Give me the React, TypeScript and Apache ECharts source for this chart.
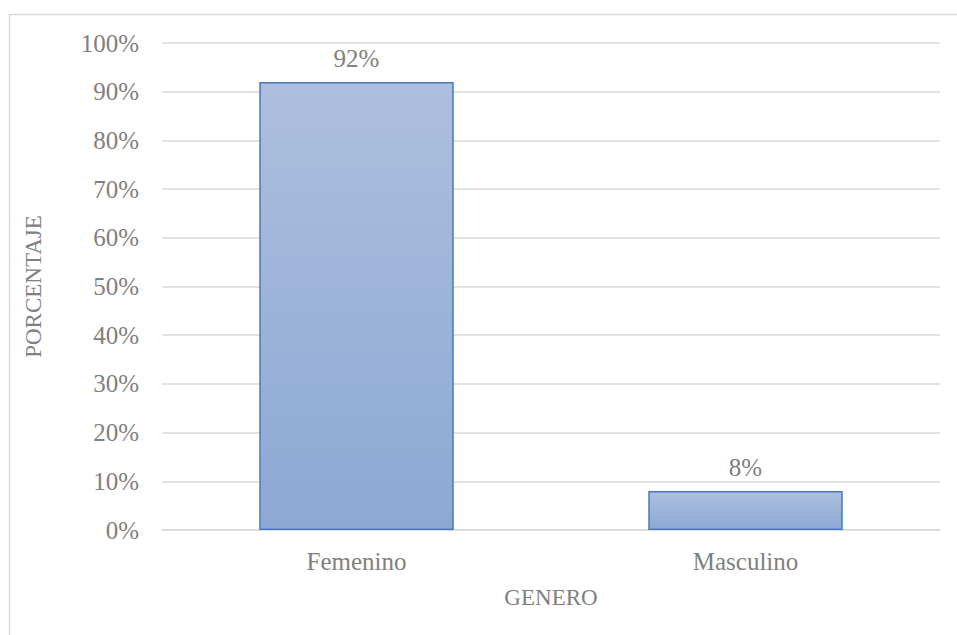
import React, { useEffect, useRef } from "react";
import * as echarts from "echarts";

const categories = ["Femenino", "Masculino"];
const values = [92, 8];
const yTicks = { min: 0, max: 100, interval: 10 };
const xAxisName = "GENERO";
const yAxisName = "PORCENTAJE";

const FONT = "'Liberation Serif', 'Times New Roman', serif";
const TEXT = "#808080";

export default function App() {
  const ref = useRef<HTMLDivElement>(null);
  useEffect(() => {
    if (!ref.current) return;
    const chart = echarts.init(ref.current, null, { renderer: "svg" });
    chart.setOption({
      animation: false,
      backgroundColor: "#ffffff",
      graphic: [
        {
          type: "rect",
          shape: { x: 9.5, y: 14.5, width: 980, height: 660 },
          style: { fill: "none", stroke: "#d9d9d9", lineWidth: 1.5 },
          silent: true,
        },
      ],
      grid: { left: 162, top: 43, right: 17, bottom: 105 },
      xAxis: {
        type: "category",
        data: categories,
        name: xAxisName,
        nameLocation: "middle",
        nameGap: 56,
        nameTextStyle: { fontFamily: FONT, fontSize: 23, color: TEXT },
        axisLine: { show: true, lineStyle: { color: "#d9d9d9", width: 1.5 } },
        axisTick: { show: false },
        axisLabel: { fontFamily: FONT, fontSize: 25, color: TEXT, margin: 19 },
      },
      yAxis: {
        type: "value",
        min: yTicks.min,
        max: yTicks.max,
        interval: yTicks.interval,
        name: yAxisName,
        nameLocation: "middle",
        nameGap: 117,
        nameTextStyle: { fontFamily: FONT, fontSize: 23, color: TEXT },
        axisLine: { show: false },
        axisTick: { show: false },
        axisLabel: {
          fontFamily: FONT,
          fontSize: 25,
          color: TEXT,
          margin: 23,
          formatter: "{value}%",
        },
        splitLine: { lineStyle: { color: "#d9d9d9", width: 1.5 } },
      },
      series: [
        {
          type: "bar",
          data: values,
          barWidth: "50%",
          itemStyle: {
            color: new echarts.graphic.LinearGradient(0, 0, 0, 1, [
              { offset: 0, color: "#adbfdd" },
              { offset: 1, color: "#8ca8d4" },
            ]),
            borderColor: "#4a78bf",
            borderWidth: 1.5,
          },
          label: {
            show: true,
            position: "top",
            distance: 11,
            formatter: "{c}%",
            fontFamily: FONT,
            fontSize: 25,
            color: TEXT,
          },
        },
      ],
    });
    return () => chart.dispose();
  }, []);
  return (
    <div
      ref={ref}
      style={{ position: "fixed", left: 0, top: 0, width: 957, height: 635 }}
    />
  );
}
